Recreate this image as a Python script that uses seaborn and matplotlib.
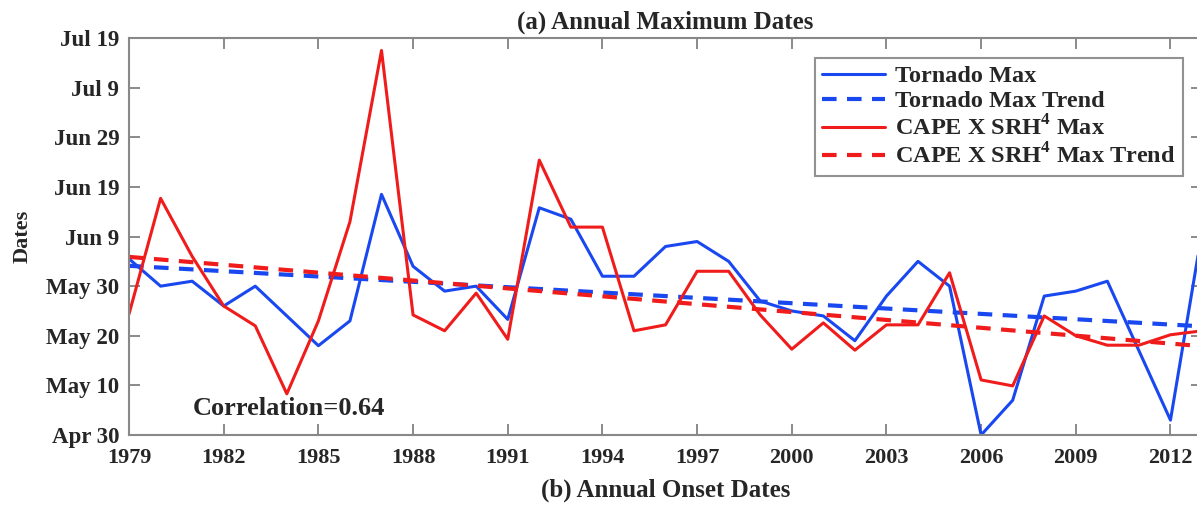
import numpy as np
import pandas as pd
import matplotlib
matplotlib.use("Agg")
import matplotlib.pyplot as plt
import seaborn as sns

# years on the x axis
years = list(range(1979, 2014))

# values are days after Apr 30
tornado_max = [35.5, 30, 31, 26, 30, 24, 18, 23, 48.5, 34,
               29, 30, 23.3, 45.8, 43.5, 32, 32, 38, 39, 35,
               27, 25, 24, 19, 28, 35, 30, 0, 7, 28,
               29, 31, 17, 3, 41]
cape_srh_max = [24.4, 47.7, 36, 26, 22, 8.3, 23, 43, 77.5, 24.2,
                21, 28.6, 19.3, 55.4, 41.9, 41.9, 21, 22.2, 33, 33,
                24.2, 17.3, 22.6, 17.1, 22.2, 22.2, 32.7, 11.1, 9.9, 24,
                20, 18.1, 18.1, 20.2, 21]

# trend lines, start (1979) and end (2013) values
trend_years = [1979, 2013]
tornado_trend = [34.1, 21.9]
cape_trend = [35.9, 17.9]

tick_days = [0, 10, 20, 30, 40, 50, 60, 70, 80]
tick_names = ["Apr 30", "May 10", "May 20", "May 30", "Jun 9",
              "Jun 19", "Jun 29", "Jul 9", "Jul 19"]
year_ticks = list(range(1979, 2013, 3))

df = pd.DataFrame({"Year": years, "Tornado": tornado_max, "CAPE": cape_srh_max})
trend_df = pd.DataFrame({"Year": trend_years, "Tornado": tornado_trend, "CAPE": cape_trend})

sns.set_style("ticks")
plt.rcParams["font.family"] = ["Liberation Serif", "DejaVu Serif"]
plt.rcParams["font.weight"] = "bold"
plt.rcParams["mathtext.fontset"] = "custom"
plt.rcParams["mathtext.rm"] = "Liberation Serif:bold"
plt.rcParams["mathtext.bf"] = "Liberation Serif:bold"

blue = "#1a48f0"
red = "#f01c1c"

fig = plt.figure(figsize=(11.97, 5.05), dpi=100)
ax = fig.add_axes([0.1078, 0.1386, 0.8964, 0.786])

sns.lineplot(data=df, x="Year", y="Tornado", ax=ax, color=blue, lw=2.2, label="Tornado Max")
sns.lineplot(data=trend_df, x="Year", y="Tornado", ax=ax, color=blue, lw=3,
             linestyle=(0, (3.5, 2.5)), label="Tornado Max Trend")
sns.lineplot(data=df, x="Year", y="CAPE", ax=ax, color=red, lw=2.2,
             label=r"CAPE X SRH$^\mathbf{4}$ Max")
sns.lineplot(data=trend_df, x="Year", y="CAPE", ax=ax, color=red, lw=3,
             linestyle=(0, (3.5, 2.5)), label=r"CAPE X SRH$^\mathbf{4}$ Max Trend")

ax.set_xlim(1979, 2013)
ax.set_ylim(0, 80)
ax.set_xticks(year_ticks)
ax.set_xticklabels([str(y) for y in year_ticks], fontsize=16, fontweight="bold")
ax.set_yticks(tick_days)
ax.set_yticklabels(tick_names, fontsize=16.5, fontweight="bold")
ax.tick_params(direction="in", top=True, right=True, length=8, width=1.2,
               color="#777777")
ax.tick_params(axis="x", pad=9)
ax.tick_params(axis="y", pad=7)
for s in ax.spines.values():
    s.set_color("#888888")
    s.set_linewidth(1.5)

ax.set_xlabel("")
ax.set_ylabel("Dates", fontsize=16, fontweight="bold", labelpad=10)

leg = ax.legend(loc="upper right", bbox_to_anchor=(0.982, 0.9496), fontsize=17.5,
                handlelength=2.6, frameon=True, fancybox=False, borderpad=0.3,
                labelspacing=0.12, handletextpad=0.4, borderaxespad=0)
leg.get_frame().set_edgecolor("#777777")
leg.get_frame().set_linewidth(1.5)
for t in leg.get_texts():
    t.set_fontweight("bold")

ax.text(0.0596, 0.068, "Correlation=0.64", transform=ax.transAxes,
        fontsize=19, fontweight="bold", va="center", ha="left")

fig.text(0.556, 0.956, "(a) Annual Maximum Dates", fontsize=18, fontweight="bold",
         ha="center", va="center")
fig.text(0.556, 0.03, "(b) Annual Onset Dates", fontsize=18, fontweight="bold",
         ha="center", va="center")

fig.savefig("out.png", dpi=100)
